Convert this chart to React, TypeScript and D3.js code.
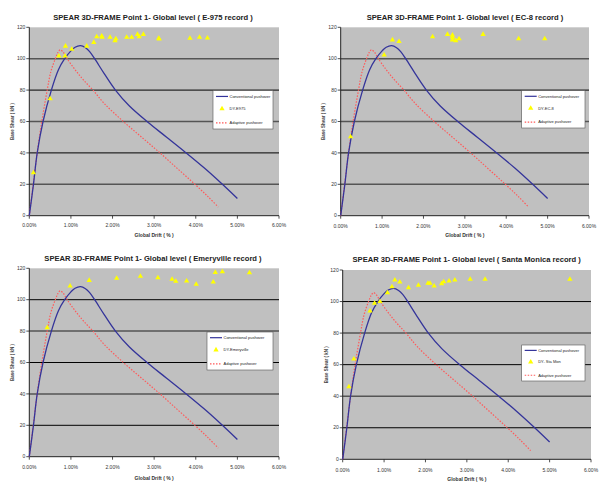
import React from "react";
import * as d3 from "d3";

// ---- Data ----
const xTicks = [0, 1, 2, 3, 4, 5, 6];
const yTicks = [0, 20, 40, 60, 80, 100, 120];
const gridValues = [20, 40, 60, 80, 100];

const conventionalDrift = [0, 0.1, 0.19, 0.33, 0.53, 0.7, 0.85, 1.0, 1.1, 1.23, 1.35, 1.45, 1.57, 1.8, 2.07, 2.4, 2.85, 3.3, 3.77, 4.2, 4.62, 5.0];
const conventionalShear = [0, 20, 40, 60, 80, 93, 100, 105, 107.3, 108.3, 107, 104.5, 100, 90.5, 80, 70, 59.5, 50, 40, 30.5, 20.5, 11];

const adaptiveDrift = [0, 0.1, 0.2, 0.3, 0.43, 0.52, 0.625, 0.69, 0.745, 0.82, 0.91, 1.1, 1.3, 1.53, 1.8, 2.26, 2.7, 3.14, 3.56, 3.98, 4.3, 4.54];
const adaptiveShear = [0, 21, 42, 60, 80, 92, 100, 104, 105.7, 104, 100, 93, 86.5, 80, 71.5, 60, 50, 40, 30, 20, 12, 5.5];

const e975Drift = [0.1, 0.5, 0.71, 0.87, 0.86, 1.02, 1.38, 1.55, 1.62, 1.74, 1.75, 1.94, 2.06, 2.08, 2.34, 2.46, 2.6, 2.64, 2.74, 3.11, 3.12, 3.86, 4.09, 4.28];
const e975Shear = [27.4, 74.5, 101.7, 108, 101.7, 106, 108, 110.4, 114, 114.4, 113.6, 113.6, 111.5, 112.7, 113.6, 113.6, 115.5, 114, 115.5, 113, 112.5, 113, 113.6, 113.2];

const ec8Drift = [0.24, 1.05, 1.25, 1.41, 2.22, 2.58, 2.7, 2.7, 2.7, 2.78, 2.86, 3.44, 4.3, 4.93];
const ec8Shear = [50.3, 102.3, 112, 111, 114, 115.5, 115, 113.6, 112, 111.5, 112.7, 115.5, 112.7, 112.7];

const emeryDrift = [0.43, 0.98, 1.44, 2.1, 2.67, 3.09, 3.43, 3.52, 3.78, 4.01, 4.42, 4.47, 4.64, 5.29];
const emeryShear = [82.2, 108.7, 112.3, 113.6, 114.9, 114, 113, 111.7, 111.9, 109.8, 111.3, 117.4, 117.8, 117.2];

const staMonDrift = [0.15, 0.27, 0.66, 0.77, 0.9, 1.08, 1.19, 1.26, 1.38, 1.59, 1.83, 2.06, 2.11, 2.21, 2.39, 2.44, 2.57, 2.71, 3.08, 3.44, 5.49];
const staMonShear = [46, 63.6, 94, 98.9, 100, 105.6, 109.4, 113.7, 112.4, 108.8, 110.3, 111.6, 111.6, 109.9, 111.3, 112.6, 113, 113.7, 114.1, 114.1, 114.1];

const titles = [
  "SPEAR 3D-FRAME  Point 1- Global level ( E-975 record )",
  "SPEAR 3D-FRAME  Point 1- Global level ( EC-8 record )",
  "SPEAR 3D-FRAME  Point 1- Global level ( Emeryville record )",
  "SPEAR 3D-FRAME  Point 1- Global level ( Santa Monica record )",
];
const legendLabels = ["Conventional pushover", "Adaptive pushover"];
const dyLabels = ["DY-E975", "DY-EC-8", "DY-Emeryville", "DY- Sta Mon"];

const BLUE = "#34349a";
const RED = "#ff5a5a";
const YELLOW = "#ffff00";
const FONT = "'Liberation Sans', Arial, sans-serif";

type Layout = {
  left: number; right: number; top: number; bottom: number;
  titleX: number; titleY: number;
  tickY: number; xLabelY: number; yLabelX: number;
  legX: number; legY: number; legW: number; legH: number;
  gridAlt: boolean;
};

function Panel({ layout, title, dyLabel, dyX, dyY }: { layout: Layout; title: string; dyLabel: string; dyX: number[]; dyY: number[] }) {
  const L = layout;
  const x = d3.scaleLinear().domain([0, 6]).range([L.left, L.right]);
  const y = d3.scaleLinear().domain([0, 120]).range([L.bottom, L.top]);
  const line = d3.line<[number, number]>().x(d => x(d[0])).y(d => y(d[1])).curve(d3.curveCatmullRom.alpha(0.5));
  const conv = line(conventionalDrift.map((v, i) => [v, conventionalShear[i]]) as [number, number][]) || "";
  const adap = line(adaptiveDrift.map((v, i) => [v, adaptiveShear[i]]) as [number, number][]) || "";
  const tri = d3.symbol(d3.symbolTriangle, 12)() || "";
  const legRow = [L.legY + L.legH * 0.15, L.legY + L.legH * 0.47, L.legY + L.legH * 0.84];
  const lx0 = L.legX + 3;
  const lx1 = L.legX + 15;
  return (
    <g>
      <text x={L.titleX} y={L.titleY} textAnchor="middle" fontFamily={FONT} fontWeight="bold" fontSize={7.6} fill="#222">{title}</text>
      <rect x={L.left} y={L.top} width={L.right - L.left} height={L.bottom - L.top} fill="#c0c0c0" />
      {gridValues.map(g => {
        const gray = ((g % 40 === 20) !== L.gridAlt);
        return <line key={g} x1={L.left} x2={L.right} y1={y(g)} y2={y(g)} stroke={gray ? "#555" : "#000"} strokeWidth={gray ? 1.5 : 1} />;
      })}
      <line x1={L.left} x2={L.right} y1={L.bottom} y2={L.bottom} stroke="#222" strokeWidth={1} />
      <line x1={L.left} x2={L.left} y1={L.top} y2={L.bottom} stroke="#222" strokeWidth={1} />
      {yTicks.map(t => (
        <g key={t}>
          <line x1={L.left - 3} x2={L.left} y1={y(t)} y2={y(t)} stroke="#222" strokeWidth={0.8} />
          <text x={L.left - 4} y={y(t) + 1.7} textAnchor="end" fontFamily={FONT} fontSize={5} fill="#333">{t}</text>
        </g>
      ))}
      {xTicks.map(t => (
        <g key={t}>
          <line x1={x(t)} x2={x(t)} y1={L.bottom} y2={L.bottom + 3} stroke="#222" strokeWidth={0.8} />
          <text x={x(t)} y={L.tickY} textAnchor="middle" fontFamily={FONT} fontSize={5} fill="#333">{t.toFixed(2) + "%"}</text>
        </g>
      ))}
      <text x={(L.left + L.right) / 2} y={L.xLabelY} textAnchor="middle" fontFamily={FONT} fontWeight="bold" fontSize={5} fill="#333">Global Drift ( % )</text>
      <text transform={`translate(${L.yLabelX},${(L.top + L.bottom) / 2}) rotate(-90)`} textAnchor="middle" fontFamily={FONT} fontWeight="bold" fontSize={4.5} fill="#444">Base Shear ( kN )</text>
      <path d={adap} fill="none" stroke={RED} strokeWidth={1.2} strokeDasharray="1.5,1.5" />
      <path d={conv} fill="none" stroke={BLUE} strokeWidth={1.3} />
      {dyX.map((v, i) => (
        <path key={i} d={tri} transform={`translate(${x(v)},${y(dyY[i])})`} fill={YELLOW} />
      ))}
      <rect x={L.legX} y={L.legY} width={L.legW} height={L.legH} fill="#fff" stroke="#555" strokeWidth={0.6} />
      <line x1={lx0} x2={lx1} y1={legRow[0]} y2={legRow[0]} stroke={BLUE} strokeWidth={1.2} />
      <text x={lx1 + 1.5} y={legRow[0] + 1.4} fontFamily={FONT} fontSize={4} fill="#222">{legendLabels[0]}</text>
      <path d={tri} transform={`translate(${(lx0 + lx1) / 2},${legRow[1]})`} fill={YELLOW} />
      <text x={lx1 + 1.5} y={legRow[1] + 1.4} fontFamily={FONT} fontSize={4} fill="#222">{dyLabel}</text>
      <line x1={lx0} x2={lx1} y1={legRow[2]} y2={legRow[2]} stroke={RED} strokeWidth={1.2} strokeDasharray="1.5,1.5" />
      <text x={lx1 + 1.5} y={legRow[2] + 1.4} fontFamily={FONT} fontSize={4} fill="#222">{legendLabels[1]}</text>
    </g>
  );
}

const layouts: Layout[] = [
  { left: 29.3, right: 279, top: 27.3, bottom: 215.7, titleX: 153, titleY: 19.5, tickY: 226.5, xLabelY: 236.5, yLabelX: 13.5, legX: 213, legY: 90.7, legW: 60, legH: 38.3, gridAlt: false },
  { left: 340.7, right: 589, top: 27.3, bottom: 215.7, titleX: 465, titleY: 19.5, tickY: 227.5, xLabelY: 237, yLabelX: 324.5, legX: 521.7, legY: 90.7, legW: 63.3, legH: 37.3, gridAlt: false },
  { left: 29.3, right: 279, top: 268.3, bottom: 456.7, titleX: 153, titleY: 260.5, tickY: 468.5, xLabelY: 479.5, yLabelX: 13.5, legX: 207, legY: 332, legW: 66, legH: 38, gridAlt: true },
  { left: 342.7, right: 591, top: 270, bottom: 459.3, titleX: 466.7, titleY: 261.5, tickY: 471.5, xLabelY: 481, yLabelX: 327.5, legX: 521.7, legY: 345, legW: 63.3, legH: 36, gridAlt: true },
];

const dyXs = [e975Drift, ec8Drift, emeryDrift, staMonDrift];
const dyYs = [e975Shear, ec8Shear, emeryShear, staMonShear];

export default function App() {
  return (
    <svg width={600} height={482} style={{ position: "absolute", left: 0, top: 0, background: "#fff" }}>
      <rect width={600} height={482} fill="#fff" />
      {layouts.map((l, i) => (
        <Panel key={i} layout={l} title={titles[i]} dyLabel={dyLabels[i]} dyX={dyXs[i]} dyY={dyYs[i]} />
      ))}
    </svg>
  );
}
